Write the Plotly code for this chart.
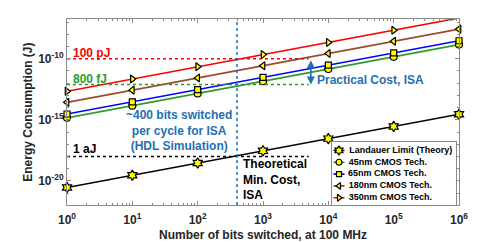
import plotly.graph_objects as go
import math

# ---------------- data ----------------
bits = [1, 10, 100, 1e3, 1e4, 1e5, 1e6]
landauer = [2.87e-21, 2.87e-20, 2.87e-19, 2.87e-18, 2.87e-17, 2.87e-16, 2.87e-15]
cmos45 = [1.45e-15, 1.45e-14, 1.45e-13, 1.45e-12, 1.45e-11, 1.45e-10, 1.45e-9]
cmos65 = [3.0e-15, 3.0e-14, 3.0e-13, 3.0e-12, 3.0e-11, 3.0e-10, 3.0e-9]
cmos180 = [2.7e-14, 2.7e-13, 2.7e-12, 2.7e-11, 2.7e-10, 2.7e-9, 2.7e-8]
cmos350 = [2.2e-13, 2.2e-12, 2.2e-11, 2.2e-10, 2.2e-9, 2.2e-8, 2.2e-7]

series_names = ["Landauer Limit (Theory)", "45nm CMOS Tech.", "65nm CMOS Tech.",
                "180nm CMOS Tech.", "350nm CMOS Tech."]

x_tickvals = [1, 10, 100, 1e3, 1e4, 1e5, 1e6]
x_ticktext = ["10<sup>0</sup>", "10<sup>1</sup>", "10<sup>2</sup>", "10<sup>3</sup>",
              "10<sup>4</sup>", "10<sup>5</sup>", "10<sup>6</sup>"]
y_tickvals = [1e-20, 1e-15, 1e-10]
y_ticktext = ["10<sup>-20</sup>", "10<sup>-15</sup>", "10<sup>-10</sup>"]

ref_100pJ = 1e-10
ref_800fJ = 8e-13
ref_1aJ = 1e-18
ref_x_end = 5000
isa_bits = 400
arrow_x = 5400

# ---------------- styles ----------------
FONT = "Liberation Sans"
YELLOW = "#ffff00"
BLUE_TXT = "#1f6fb2"
GREEN = "#2e9a2e"
BROWN = "#9a4a2a"
AXIS = "#8a8a8a"
DARK = "#262626"

styles = [("black", "hexagram", 8),
          (GREEN, "circle", 7),
          ("blue", "square", 6),
          (BROWN, "triangle-left", 7),
          ("red", "triangle-right", 7)]
series = [landauer, cmos45, cmos65, cmos180, cmos350]

fig = go.Figure()

for vals, name, (color, symbol, size) in zip(series, series_names, styles):
    fig.add_trace(go.Scatter(
        x=bits, y=vals, name=name, mode="lines+markers",
        line=dict(color=color, width=1.6),
        marker=dict(symbol=symbol, size=size, color=YELLOW,
                    line=dict(color="black", width=1.2)),
        cliponaxis=False, showlegend=False))

# reference dotted lines
for yv, col in [(ref_100pJ, "red"), (ref_800fJ, GREEN), (ref_1aJ, "black")]:
    fig.add_trace(go.Scatter(x=[1, ref_x_end], y=[yv, yv], mode="lines",
                             line=dict(color=col, width=1.5, dash="dot"),
                             showlegend=False, hoverinfo="skip"))

fig.add_shape(type="line", xref="x", yref="paper", x0=isa_bits, x1=isa_bits,
              y0=0, y1=1, line=dict(color=BLUE_TXT, width=1.5, dash="dot"))

# double-headed arrow between 100 pJ and 800 fJ
fig.add_annotation(x=math.log10(arrow_x), y=math.log10(ref_800fJ),
                   ax=math.log10(arrow_x), ay=math.log10(ref_100pJ),
                   xref="x", yref="y", axref="x", ayref="y", text="",
                   showarrow=True, arrowhead=2, arrowside="end+start",
                   arrowsize=1, arrowwidth=1.6, arrowcolor=BLUE_TXT,
                   standoff=0, startstandoff=0)

def txt(x, y, t, color, xanchor="left", align="left", size=12):
    fig.add_annotation(x=x, y=y, xref="x", yref="y", text=t, showarrow=False,
                       xanchor=xanchor, yanchor="middle", align=align,
                       font=dict(family=FONT, size=size, color=color, weight="bold"))

txt(0.06, -9.5, "100 pJ", "red")
txt(0.06, -11.65, "800 fJ", GREEN)
txt(0.06, -17.42, "1 aJ", "black")
txt(3.80, -11.74, "Practical Cost, ISA", BLUE_TXT)
txt(1.72, -15.84, "~400 bits switched<br>per cycle for ISA<br>(HDL Simulation)",
    BLUE_TXT, xanchor="center", align="center")
txt(2.66, -19.9, "Theoretical<br>Min. Cost,<br>ISA", "black")

# axis titles
fig.add_annotation(x=-0.10, y=0.5, xref="paper", yref="paper",
                   text="Energy Consumption (J)", textangle=-90, showarrow=False,
                   xanchor="center", yanchor="middle",
                   font=dict(family=FONT, size=12, color=DARK, weight="bold"))
fig.add_annotation(x=0.5, y=-0.161, xref="paper", yref="paper",
                   text="Number of bits switched, at 100 MHz", showarrow=False,
                   xanchor="center", yanchor="middle",
                   font=dict(family=FONT, size=12, color=DARK, weight="bold"))

# ---------------- legend (boxed, compact, MATLAB-like) ----------------
LEG_W, LEG_H, ROW0, ROW_STEP = 124, 63, 8.5, 11.8
for i, (name, (color, symbol, size)) in enumerate(zip(series_names, styles)):
    ry = ROW0 + i * ROW_STEP
    fig.add_trace(go.Scatter(x=[1.5, 12.5], y=[ry, ry], mode="lines",
                             line=dict(color=color, width=1.6),
                             xaxis="x2", yaxis="y2", showlegend=False,
                             hoverinfo="skip"))
    fig.add_trace(go.Scatter(x=[7], y=[ry], mode="markers+text",
                             marker=dict(symbol=symbol, size=size - 1, color=YELLOW,
                                         line=dict(color="black", width=1.2)),
                             text=["  " + name], textposition="middle right",
                             textfont=dict(family=FONT, size=9, color="black",
                                           weight="bold"),
                             xaxis="x2", yaxis="y2", showlegend=False,
                             cliponaxis=False, hoverinfo="skip"))

fig.update_layout(
    width=485, height=242,
    margin=dict(l=67, r=26, t=19, b=37),
    paper_bgcolor="white", plot_bgcolor="white",
    font=dict(family=FONT, size=12, color=DARK, weight="bold"),
    showlegend=False,
    xaxis=dict(
        type="log", range=[0, 6], automargin=False,
        tickmode="array", tickvals=x_tickvals, ticktext=x_ticktext,
        ticks="inside", ticklen=4, tickcolor=AXIS, ticklabelstandoff=4,
        showline=True, linecolor=AXIS, linewidth=1, mirror="allticks",
        showgrid=False, zeroline=False,
        tickfont=dict(family=FONT, size=12, color=DARK, weight="bold"),
        minor=dict(ticks="inside", ticklen=2, tickcolor=AXIS,
                   tickvals=[m * 10 ** k for k in range(6) for m in range(2, 10)]),
    ),
    yaxis=dict(
        type="log", range=[-21.98, -6.74], automargin=False,
        tickmode="array", tickvals=y_tickvals, ticktext=y_ticktext,
        ticks="inside", ticklen=4, tickcolor=AXIS,
        showline=True, linecolor=AXIS, linewidth=1, mirror="allticks",
        showgrid=False, zeroline=False,
        tickfont=dict(family=FONT, size=12, color=DARK, weight="bold"),
        minor=dict(ticks="inside", ticklen=2, tickcolor=AXIS,
                   tickvals=[10.0 ** k for k in range(-21, -6)]),
    ),
    xaxis2=dict(domain=[0.676, 0.992], range=[0, LEG_W], anchor="y2",
                showline=True, mirror=True, linecolor=AXIS, linewidth=1,
                showticklabels=False, ticks="", showgrid=False, zeroline=False,
                fixedrange=True),
    yaxis2=dict(domain=[0.0, 0.339], range=[LEG_H, 0], anchor="x2",
                showline=True, mirror=True, linecolor=AXIS, linewidth=1,
                showticklabels=False, ticks="", showgrid=False, zeroline=False,
                fixedrange=True),
)

fig.write_html("out.html",
               config={"displayModeBar": False},
               post_script="document.body.style.margin='0';"
                           "document.body.style.overflow='hidden';")
